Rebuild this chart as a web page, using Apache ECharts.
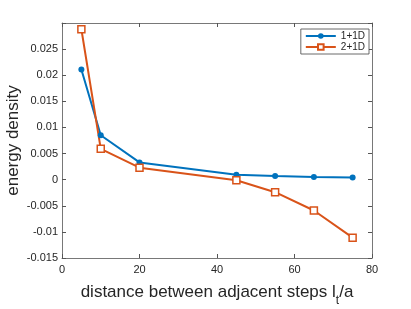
<!DOCTYPE html>
<html><head><meta charset="utf-8">
<script src="https://cdn.jsdelivr.net/npm/echarts@6/dist/echarts.min.js"></script>
<style>html,body{margin:0;padding:0;background:#fff}#c{width:411px;height:309px}</style>
</head><body><div id="c"></div>
<script>
const xValues = [5, 10, 20, 45, 55, 65, 75];
const series1D = [0.0211, 0.0085, 0.0033, 0.00096, 0.0007, 0.0005, 0.0004];
const series2D = [0.0288, 0.0059, 0.0023, -0.0001, -0.0024, -0.0059, -0.0111];
const seriesNames = ['1+1D', '2+1D'];
const xTicks = [0, 20, 40, 60, 80];
const yTicks = [-0.015, -0.01, -0.005, 0, 0.005, 0.01, 0.015, 0.02, 0.025];

const axisCol = '#555';
const txtCol = '#262626';
const font = 'Liberation Sans, Arial';
const chart = echarts.init(document.getElementById('c'));
const pair = (xs, ys) => xs.map((x, i) => [x, ys[i]]);
const fmtY = v => {
  if (v > 0.0299) return '';
  if (Math.abs(v) < 1e-12) return '0';
  return String(+v.toFixed(3));
};
const boxLine = {show: true, onZero: false, lineStyle: {color: axisCol, width: 0.8}};
const tick = {show: true, inside: true, length: 4, lineStyle: {color: axisCol}};
chart.setOption({
  animation: false,
  grid: {left: 62, top: 23, right: 39, bottom: 51, containLabel: false, outerBoundsMode: 'none'},
  legend: {
    right: 42, top: 29, orient: 'vertical',
    itemWidth: 30, itemHeight: 7, itemGap: 1,
    padding: [2, 4, 2, 4],
    borderColor: '#444', borderWidth: 0.8, backgroundColor: '#fff',
    textStyle: {fontSize: 10, color: txtCol, fontFamily: font},
    data: seriesNames
  },
  xAxis: [{
    type: 'value', min: 0, max: 80, interval: 20,
    axisLine: boxLine, axisTick: tick,
    splitLine: {show: false},
    axisLabel: {fontSize: 11, color: txtCol, margin: 6, fontFamily: font},
    name: 'distance between adjacent steps l{sub|t}/a',
    nameLocation: 'middle', nameGap: 26, nameMoveOverlap: false,
    nameTextStyle: {fontSize: 17, color: txtCol, fontFamily: font,
      rich: {sub: {fontSize: 12, fontFamily: font, color: txtCol, verticalAlign: 'bottom', padding: [0,0,-6,0]}}}
  }, {
    type: 'value', min: 0, max: 80, interval: 20, position: 'top',
    axisLine: boxLine, axisTick: tick,
    axisLabel: {show: false}, splitLine: {show: false}
  }],
  yAxis: [{
    type: 'value', min: -0.015, max: 0.03, interval: 0.005,
    axisLine: boxLine, axisTick: tick,
    splitLine: {show: false},
    axisLabel: {fontSize: 11, color: txtCol, margin: 4, formatter: fmtY, fontFamily: font},
    name: 'energy density', nameLocation: 'middle', nameGap: 40, nameMoveOverlap: false,
    nameTextStyle: {fontSize: 17, color: txtCol, fontFamily: font}
  }, {
    type: 'value', min: -0.015, max: 0.03, interval: 0.005, position: 'right',
    axisLine: boxLine, axisTick: tick,
    axisLabel: {show: false}, splitLine: {show: false}
  }],
  series: [{
    name: seriesNames[0], type: 'line', data: pair(xValues, series1D),
    symbol: 'circle', symbolSize: 6,
    lineStyle: {color: '#0072BD', width: 2},
    itemStyle: {color: '#0072BD', borderColor: '#0072BD', borderWidth: 0}
  }, {
    name: seriesNames[1], type: 'line', data: pair(xValues, series2D),
    symbol: 'rect', symbolSize: 7,
    lineStyle: {color: '#D95319', width: 2},
    itemStyle: {color: '#fff', borderColor: '#D95319', borderWidth: 1.5}
  }]
});
</script></body></html>
